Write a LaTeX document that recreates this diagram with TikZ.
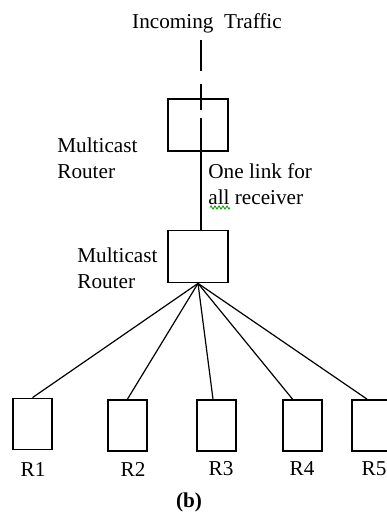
\documentclass[tikz,border=0pt]{standalone}
\usepackage{fontspec}
\setmainfont{Liberation Serif}
\usetikzlibrary{decorations.pathmorphing}

\begin{document}
\begin{tikzpicture}[x=0.5pt,y=-0.5pt,
   font=\fontsize{10.6}{13}\selectfont,
   router/.style={draw,line width=0.9pt,minimum width=30pt,minimum height=26pt,inner sep=0pt},
   recv/.style={draw,line width=0.9pt,minimum width=19.5pt,minimum height=25.5pt,inner sep=0pt},
   link/.style={line width=0.6pt},
   txt/.style={align=left,anchor=west,inner sep=0pt}]
   \useasboundingbox (0,0) rectangle (387,516);
   \node (traffic) at (207,23) {Incoming~~Traffic};
   \node[router] (mra) at (198,125) {};
   \node[router] (mrb) at (198,256.5) {};
   \node[recv] (r1) at (32.5,424) {};
   \node[recv] (r2) at (127.5,425.5) {};
   \node[recv] (r3) at (216.5,425.5) {};
   \node[recv] (r4) at (302.5,425.5) {};
   \node[recv] (r5) at (371.5,425.5) {};
   % incoming feed, dashed down to the first router
   \coordinate (in) at (201,40);
   \draw[link,dash pattern=on 15.5pt off 6.5pt on 13pt off 4pt on 100pt off 0pt]
     (in) -- (in |- mrb.north);
   \draw[link] (mrb.south) -- (r1.north);
   \draw[link] (mrb.south) -- (r2.north);
   \draw[link] (mrb.south) -- ([xshift=-1.75pt]r3.north);
   \draw[link] (mrb.south) -- ([xshift=-5pt]r4.north);
   \draw[link] (mrb.south) -- ([xshift=-2.25pt]r5.north);
   \node[txt] (lba) at (57,158) {Multicast\\Router};
   \node[txt] (lbb) at (77,268) {Multicast\\Router};
   \node[txt] (lbl) at (208,184) {One link for\\all receiver};
   \draw[green!60!black,line width=0.4pt,decorate,decoration={zigzag,segment length=2pt,amplitude=0.8pt}]
     (210,207.5) -- (230,207.5);
   \node (n1) at (33,469) {R1};
   \node (n2) at (133,469) {R2};
   \node (n3) at (221,469) {R3};
   \node (n4) at (302,469) {R4};
   \node (n5) at (374,469) {R5};
   \node (cap) at (189,502) {\textbf{(b)}};
\end{tikzpicture}
\end{document}
